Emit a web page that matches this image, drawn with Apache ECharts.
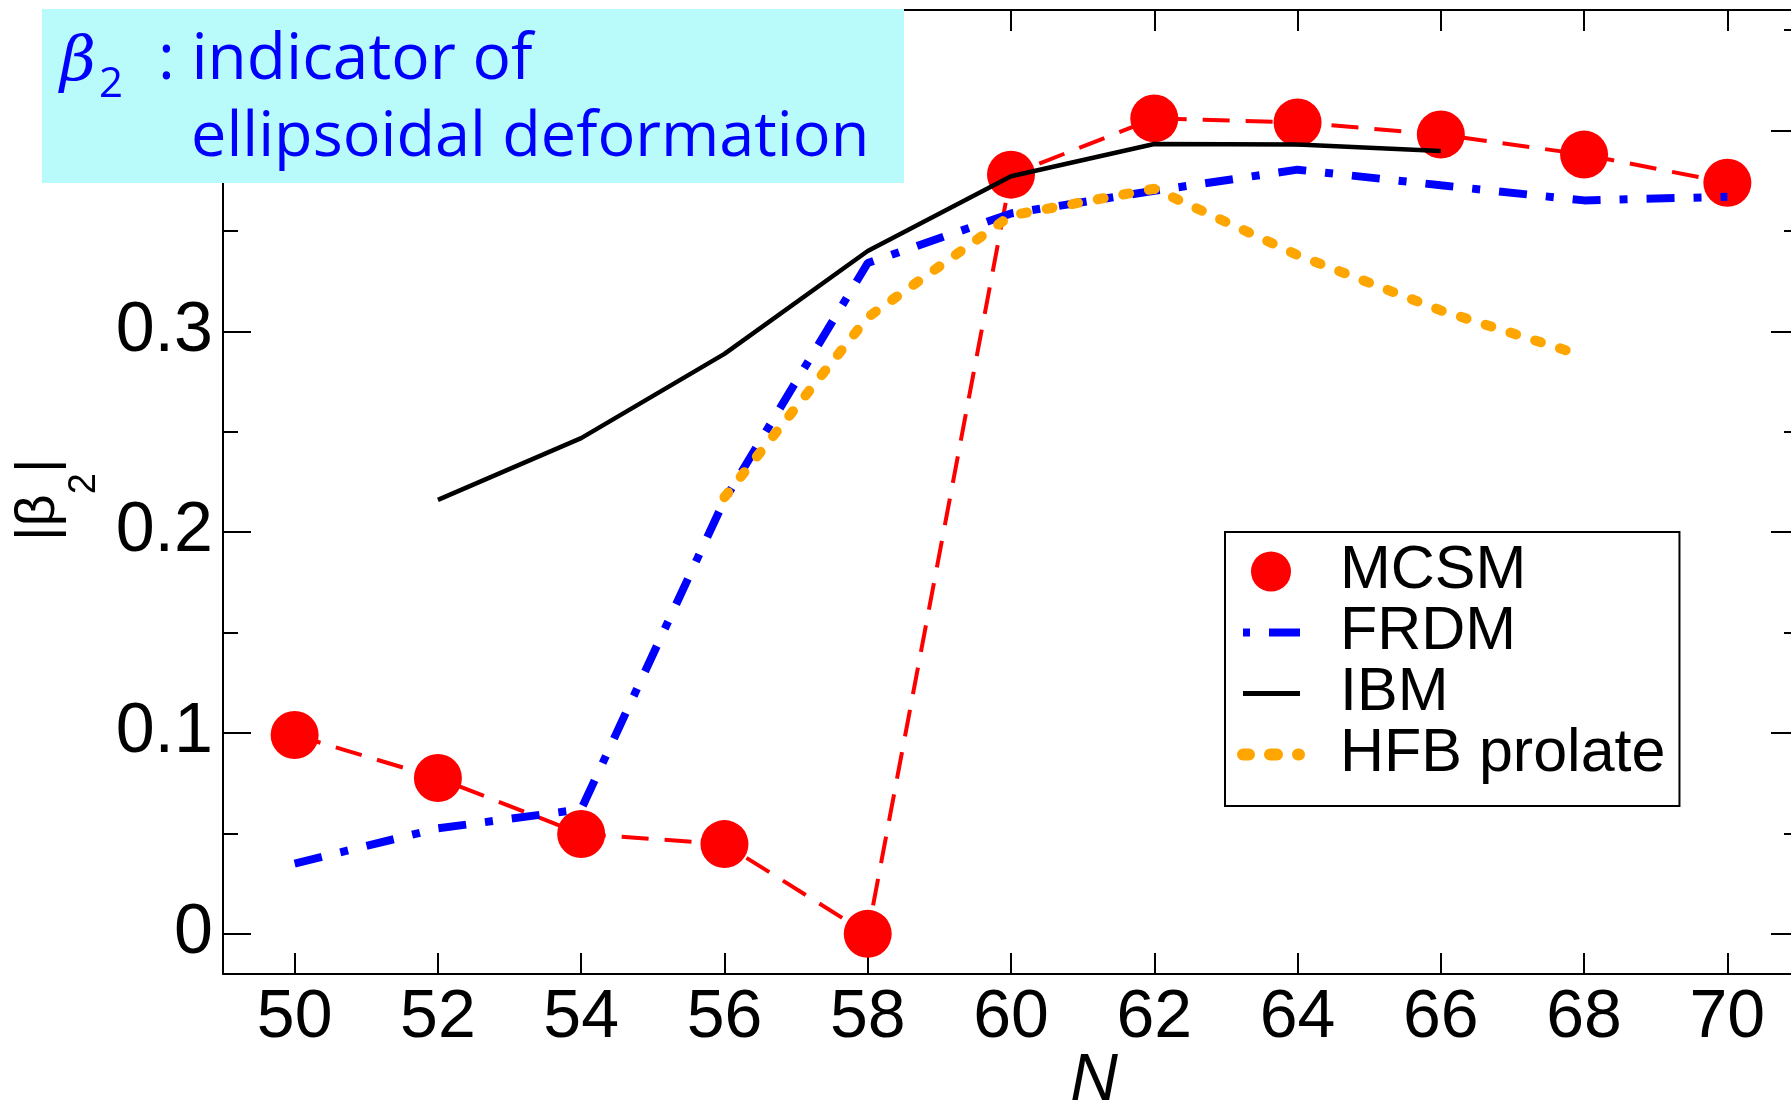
<!DOCTYPE html>
<html>
<head>
<meta charset="utf-8">
<script src="https://cdn.jsdelivr.net/npm/echarts@6/dist/echarts.min.js"></script>
<style>
  html, body { margin: 0; padding: 0; background: #ffffff; }
  #chart { width: 1791px; height: 1107px; }
</style>
</head>
<body>
<div id="chart"></div>
<script>
// Quadrupole deformation |beta_2| versus neutron number N
const neutronN   = [50, 52, 54, 56, 58, 60, 62, 64, 66, 68, 70];
const mcsmBeta   = [0.099, 0.0776, 0.0497, 0.0447, 0.0, 0.378, 0.406, 0.404, 0.398, 0.388, 0.374];
const frdmBeta   = [0.035, 0.0525, 0.062, 0.216, 0.334, 0.3587, 0.370, 0.3805, 0.3727, 0.3652, 0.367];
const ibmN       = [52, 54, 56, 58, 60, 62, 64, 66];
const ibmBeta    = [0.2161, 0.2468, 0.2888, 0.340, 0.3772, 0.3933, 0.393, 0.3898];
const hfbN       = [56, 58, 60, 62, 64, 66, 68];
const hfbBeta    = [0.2174, 0.307, 0.3577, 0.371, 0.338, 0.3104, 0.2877];

const xTickValues  = [50, 52, 54, 56, 58, 60, 62, 64, 66, 68, 70];
const yMajorValues = [0, 0.1, 0.2, 0.3, 0.4];
const yMinorValues = [0.05, 0.15, 0.25, 0.35, 0.45];

const pairs = (xs, ys) => xs.map((x, i) => [x, ys[i]]);

const X_MIN = 49, X_MAX = 71, Y_MIN = -0.02, Y_MAX = 0.46;
const AX = { color: '#000', width: 2 };
const SANS = 'Liberation Sans';

function xAxisDef(pos, labels) {
  return {
    type: 'value', position: pos, min: X_MIN, max: X_MAX,
    splitLine: { show: false },
    axisLine: { show: true, onZero: false, lineStyle: AX },
    axisTick: { show: true, inside: true, length: 21, lineStyle: AX, customValues: xTickValues },
    axisLabel: labels ? {
      show: true, customValues: xTickValues, margin: 10,
      fontFamily: SANS, fontSize: 68, color: '#000'
    } : { show: false }
  };
}

function yAxisDef(pos, ticks, len, line, labels) {
  return {
    type: 'value', position: pos, min: Y_MIN, max: Y_MAX,
    splitLine: { show: false },
    axisLine: { show: line, onZero: false, lineStyle: AX },
    axisTick: { show: true, inside: true, length: len, lineStyle: AX, customValues: ticks },
    axisLabel: labels ? {
      show: true, customValues: yMajorValues, margin: 10,
      fontFamily: SANS, fontSize: 70, color: '#000',
      formatter: v => (Math.abs(v) < 1e-9 ? '0' : v.toFixed(1))
    } : { show: false }
  };
}

// legend glyphs: dash-dot, solid bar and rounded dots, all 68 units wide
const edge = 'M0,3.99h0.01v0.02h-0.01z M67.99,3.99h0.01v0.02h-0.01z ';
const ICON_DASHDOT = 'path://' + edge + 'M6,0h7v8h-7z M32,0h31v8h-31z';
const ICON_SOLID   = 'path://' + edge + 'M6,1.5h57v5h-57z';
const ICON_DOTS    = 'path://M6,0h6a6,6 0 0 1 0,12h-6a6,6 0 0 1 0,-12z ' +
                     'M33,0h7a6,6 0 0 1 0,12h-7a6,6 0 0 1 0,-12z ' +
                     'M61,0h1a6,6 0 0 1 0,12h-1a6,6 0 0 1 0,-12z';

// y-axis title pieces are laid end to end, reading bottom to top
const measureCtx = document.createElement('canvas').getContext('2d');
function textWidth(text, size) {
  measureCtx.font = size + 'px "' + SANS + '"';
  return measureCtx.measureText(text).width;
}
const TITLE_SIZE = 56, SUB_SIZE = 38, TITLE_START = 541;
const wBarBeta = textWidth('|β', TITLE_SIZE);
const wSub = textWidth('2', SUB_SIZE);

const nameFont = { fontFamily: SANS, fill: '#000', align: 'left', verticalAlign: 'middle' };

const chart = echarts.init(document.getElementById('chart'), null, { renderer: 'canvas' });

chart.setOption({
  animation: false,
  backgroundColor: '#ffffff',
  grid: { left: 223, top: 10, right: -8, bottom: 133, containLabel: false, outerBoundsMode: 'none' },
  xAxis: [xAxisDef('bottom', true), xAxisDef('top', false)],
  yAxis: [
    yAxisDef('left', yMajorValues, 28, true, true),
    yAxisDef('left', yMinorValues, 15, false, false),
    yAxisDef('right', yMajorValues, 28, true, false),
    yAxisDef('right', yMinorValues, 15, false, false)
  ],
  legend: {
    orient: 'vertical',
    left: 1225, top: 532,
    padding: [9, 14, 21, 12],
    borderColor: '#000', borderWidth: 2,
    itemWidth: 68, itemHeight: 40, itemGap: 0,
    symbolKeepAspect: true,
    textStyle: { fontFamily: SANS, fontSize: 61, lineHeight: 60, color: '#000', padding: [0, 0, 0, 30] },
    data: [
      { name: 'MCSM', icon: 'circle' },
      { name: 'FRDM', icon: ICON_DASHDOT, itemStyle: { borderWidth: 0 } },
      { name: 'IBM', icon: ICON_SOLID, itemStyle: { borderWidth: 0 } },
      { name: 'HFB prolate', icon: ICON_DOTS, itemStyle: { borderWidth: 0 } }
    ]
  },
  series: [
    {
      name: 'MCSM', type: 'line', z: 1,
      data: pairs(neutronN, mcsmBeta),
      symbol: 'circle', symbolSize: 48,
      itemStyle: { color: '#ff0000' },
      lineStyle: { color: '#ff0000', width: 4, type: [27, 16] }
    },
    {
      name: 'FRDM', type: 'line', z: 2,
      data: pairs(neutronN, frdmBeta),
      symbol: 'none',
      itemStyle: { color: '#0000ff' },
      lineStyle: { color: '#0000ff', width: 8, type: [28, 19, 8, 19] }
    },
    {
      name: 'IBM', type: 'line', z: 2,
      data: pairs(ibmN, ibmBeta),
      symbol: 'none',
      itemStyle: { color: '#000000' },
      lineStyle: { color: '#000000', width: 4.5 }
    },
    {
      name: 'HFB prolate', type: 'line', z: 2,
      data: pairs(hfbN, hfbBeta),
      symbol: 'none',
      itemStyle: { color: '#ffa500' },
      lineStyle: { color: '#ffa500', width: 10, type: [6, 20], cap: 'round' }
    }
  ],
  graphic: [
    // annotation panel
    {
      type: 'rect', z: 100,
      shape: { x: 42, y: 9, width: 862, height: 174 },
      style: { fill: '#b9fbfb' }
    },
    {
      type: 'text', z: 101, x: 60, y: 64,
      style: { text: 'β', fontFamily: 'DejaVu Serif', fontStyle: 'italic', fontSize: 62,
               fill: '#0000ff', align: 'left', verticalAlign: 'middle' }
    },
    {
      type: 'text', z: 101, x: 99, y: 85,
      style: { text: '2', fontFamily: 'Open Sans', fontSize: 42,
               fill: '#0000ff', align: 'left', verticalAlign: 'middle' }
    },
    {
      type: 'text', z: 101, x: 158, y: 61,
      style: { text: ': indicator of', fontFamily: 'Open Sans', fontSize: 64,
               fill: '#0000ff', align: 'left', verticalAlign: 'middle' }
    },
    {
      type: 'text', z: 101, x: 191, y: 138,
      style: { text: 'ellipsoidal deformation', fontFamily: 'Open Sans', fontSize: 63,
               fill: '#0000ff', align: 'left', verticalAlign: 'middle' }
    },
    // y-axis title |β2|
    {
      type: 'text', z: 101, x: 39, y: TITLE_START, rotation: Math.PI / 2,
      style: Object.assign({ text: '|β', fontSize: TITLE_SIZE }, nameFont)
    },
    {
      type: 'text', z: 101, x: 85, y: TITLE_START - wBarBeta, rotation: Math.PI / 2,
      style: Object.assign({ text: '2', fontSize: SUB_SIZE }, nameFont)
    },
    {
      type: 'text', z: 101, x: 39, y: TITLE_START - wBarBeta - wSub, rotation: Math.PI / 2,
      style: Object.assign({ text: '|', fontSize: TITLE_SIZE }, nameFont)
    },
    // x-axis title
    {
      type: 'text', z: 101, x: 1094, y: 1082,
      style: { text: 'N', fontFamily: SANS, fontStyle: 'italic', fontSize: 66,
               fill: '#000', align: 'center', verticalAlign: 'middle' }
    }
  ]
});
</script>
</body>
</html>
